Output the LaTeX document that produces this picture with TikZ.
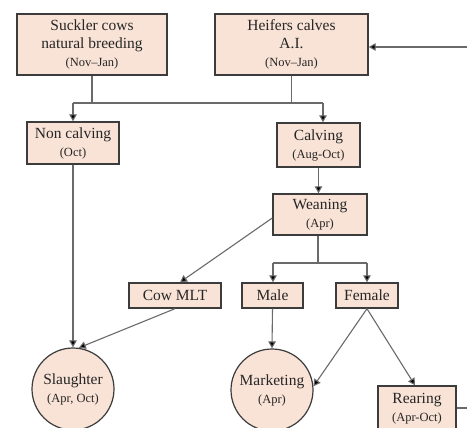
\documentclass[tikz,border=0pt]{standalone}
\usepackage{fontspec}
\setmainfont{Liberation Serif}
\usetikzlibrary{arrows.meta}
\definecolor{boxfill}{HTML}{F9E3D6}
\definecolor{boxline}{HTML}{3C3C3C}
\definecolor{connline}{HTML}{6A6A6A}
\newcommand{\mainsz}{\fontsize{15.5}{18}\selectfont}
\newcommand{\datesz}{\fontsize{12.5}{18}\selectfont}
\begin{document}
\begin{tikzpicture}[x=1pt,y=-1pt,
  stagebox/.style={draw=boxline,line width=1.4pt,fill=boxfill,rectangle,align=center,inner sep=0pt,font=\mainsz,text=black!85},
  endcirc/.style={draw=boxline,line width=1.2pt,fill=boxfill,circle,align=center,inner sep=0pt,minimum size=82pt,font=\mainsz,text=black!85},
  conn/.style={draw=connline,line width=1.1pt},
  arr/.style={conn,-{Triangle[length=7pt,width=7.5pt,fill=black]}}]
\clip (0,0) rectangle (467,428);
\useasboundingbox (0,0) rectangle (467,428);
\fill[white] (0,0) rectangle (467,428);
% nodes
\node[stagebox,minimum width=150pt,minimum height=61pt] (suckler) at (92,44.5) {Suckler cows\\natural breeding\\{\datesz(Nov–Jan)}};
\node[stagebox,minimum width=153pt,minimum height=61pt] (heifers) at (291.5,44.5) {Heifers calves\\A.I.\\{\datesz(Nov–Jan)}};
\node[stagebox,minimum width=92pt,minimum height=42pt] (noncalv) at (73,143) {Non calving\\{\datesz(Oct)}};
\node[stagebox,minimum width=83pt,minimum height=44pt] (calving) at (318.5,145) {Calving\\{\datesz(Aug-Oct)}};
\node[stagebox,minimum width=94pt,minimum height=41pt] (weaning) at (320,214.5) {Weaning\\{\datesz(Apr)}};
\node[stagebox,minimum width=92pt,minimum height=25pt] (cowmlt) at (175,295.5) {Cow MLT};
\node[stagebox,minimum width=61pt,minimum height=25pt] (male) at (272.5,295.5) {Male};
\node[stagebox,minimum width=62pt,minimum height=25pt] (female) at (367,295.5) {Female};
\node[endcirc] (slaughter) at (73,389) {Slaughter\\{\datesz(Apr, Oct)}};
\node[endcirc] (marketing) at (272,390) {Marketing\\{\datesz(Apr)}};
\node[stagebox,minimum width=78pt,minimum height=46pt] (rearing) at (417,409) {Rearing\\{\datesz(Apr-Oct)}};
% coordinates
\coordinate (busL) at (73,103);
\coordinate (busR) at (323,103);
\coordinate (bus2) at (318,263);
\coordinate (bus2L) at (273,263);
\coordinate (bus2R) at (367,263);
\coordinate (rightin) at (467,47);
\coordinate (rightout) at (467,408);
% connectors
\draw[conn] (suckler.south) -- (suckler.south |- busL);
\draw[conn] (heifers.south) -- (heifers.south |- busR);
\draw[conn] (busL) -- (busR);
\draw[arr] (busL) -- (noncalv.north -| busL);
\draw[arr] (busR) -- (calving.north -| busR);
\draw[arr] (calving.south) -- (calving.south |- weaning.north);
\draw[conn] (weaning.south -| bus2) -- (bus2);
\draw[conn] (bus2L) -- (bus2R);
\draw[arr] (bus2L) -- (male.north -| bus2L);
\draw[arr] (bus2R) -- (female.north -| bus2R);
\draw[arr] (weaning.west |- 0,218) -- ([xshift=5pt]cowmlt.north);
\draw[arr] (noncalv.south) -- (slaughter.north);
\draw[arr] (cowmlt.south) -- (slaughter.82);
\draw[arr] (male.south) -- (marketing.north);
\draw[arr] (female.south) -- (marketing.5);
\draw[arr] (female.south) -- ([xshift=-2pt]rearing.north);
\draw[conn] (rearing.east |- rightout) -- (rightout);
\draw[arr] (rightin) -- (heifers.east |- rightin);
\end{tikzpicture}
\end{document}
